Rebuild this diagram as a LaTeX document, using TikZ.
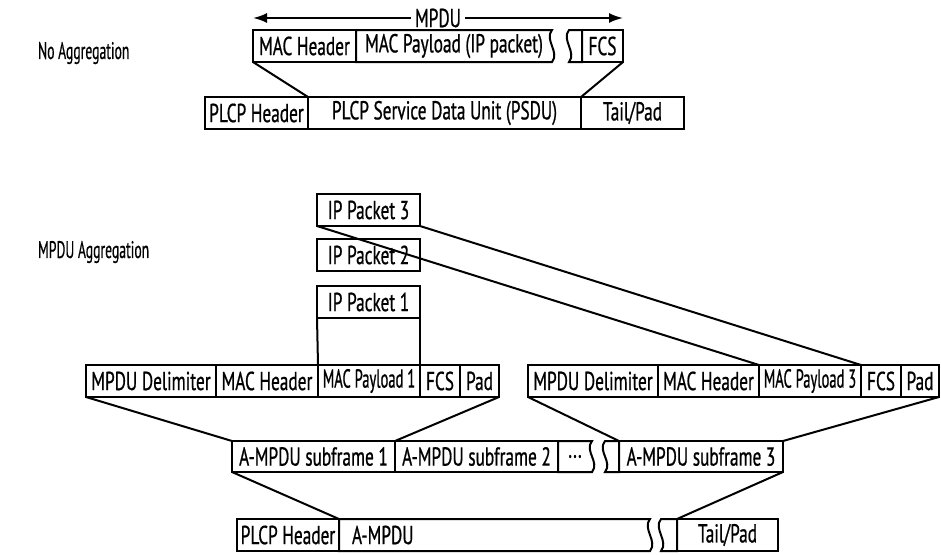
\documentclass[tikz,border=0pt]{standalone}
\usepackage{fontspec}
\setmainfont{PT Sans}[FakeStretch=0.665,FakeBold=0.7]
\newfontfamily\tightfont{PT Sans}[FakeStretch=0.56,FakeBold=0.7]
\newfontfamily\capfont{PT Sans}[FakeStretch=0.57,FakeBold=0.5]
\usetikzlibrary{positioning,arrows.meta}

\newcommand{\cellfont}{\fontsize{26}{30}\selectfont}
% outline of a cell that is broken on its right or left side
\newcommand{\brkright}[1]{\draw (#1.north west) -- (#1.north east)
  .. controls +(-8,10) and +(8,-10) .. (#1.south east) -- (#1.south west) -- cycle;}
\newcommand{\brkleft}[1]{\draw (#1.north east) -- (#1.north west)
  .. controls +(-8,10) and +(8,-10) .. (#1.south west) -- (#1.south east) -- cycle;}

\begin{document}
\begin{tikzpicture}[x=1pt,y=-1pt,line width=2pt,>={Latex[length=14pt,width=10pt]},
                    font=\cellfont]
  \tikzstyle{cell}=[rectangle,draw=black,inner sep=0pt,outer sep=0pt,minimum height=32pt]
  \tikzstyle{open}=[cell,draw=none]
  \tikzstyle{caption}=[anchor=west,inner sep=0pt,font=\fontsize{24}{28}\capfont]

  \useasboundingbox (0,0) rectangle (941,554);

  \node[caption] (noagg)   at (37,53)  {No Aggregation};
  \node[caption] (mpduagg) at (37,252) {MPDU Aggregation};

  % no aggregation
  \node[cell,minimum width=103pt,anchor=north west] (machdr) at (253,30) {MAC Header};
  \node[open,minimum width=196pt,right=0pt of machdr] (macpay) {MAC Payload (IP packet)};
  \node[open,minimum width=13pt,right=17pt of macpay] (macrest) {};
  \node[cell,minimum width=41pt,right=0pt of macrest] (fcs) {FCS};

  \node[cell,minimum width=103pt,anchor=north west] (plcp) at (205,97) {PLCP Header};
  \node[cell,minimum width=273pt,right=0pt of plcp] (psdu) {PLCP Service Data Unit (PSDU)};
  \node[cell,minimum width=103pt,right=0pt of psdu] (tail) {Tail/Pad};

  \draw[<->] ([yshift=12pt]machdr.north west) -- node[fill=white,inner sep=4pt] (mpdu) {MPDU}
             ([yshift=12pt]fcs.north east);

  % mpdu aggregation
  \node[cell,minimum width=103pt,anchor=north west] (ip3) at (317,194) {IP Packet 3};
  \node[cell,minimum width=103pt,below=13pt of ip3] (ip2) {IP Packet 2};
  \node[cell,minimum width=103pt,below=15pt of ip2] (ip1) {IP Packet 1};

  \node[cell,minimum width=130pt,anchor=north west] (delim1) at (86,365) {MPDU Delimiter};
  \node[cell,minimum width=102pt,right=0pt of delim1] (hdr1) {MAC Header};
  \node[cell,minimum width=102pt,right=0pt of hdr1,font={\cellfont\tightfont}] (pay1) {MAC Payload 1};
  \node[cell,minimum width=40pt,right=0pt of pay1] (fcs1) {FCS};
  \node[cell,minimum width=39pt,right=0pt of fcs1] (pad1) {Pad};

  \node[cell,minimum width=130pt,anchor=north west] (delim3) at (528,365) {MPDU Delimiter};
  \node[cell,minimum width=101pt,right=0pt of delim3] (hdr3) {MAC Header};
  \node[cell,minimum width=102pt,right=0pt of hdr3,font={\cellfont\tightfont}] (pay3) {MAC Payload 3};
  \node[cell,minimum width=40pt,right=0pt of pay3] (fcs3) {FCS};
  \node[cell,minimum width=38pt,right=0pt of fcs3] (pad3) {Pad};

  \node[cell,minimum width=163pt,minimum height=31pt,anchor=north west] (sf1) at (232,441) {A-MPDU subframe 1};
  \node[cell,minimum width=163pt,minimum height=31pt,right=0pt of sf1] (sf2) {A-MPDU subframe 2};
  \node[open,minimum width=34pt,minimum height=31pt,right=0pt of sf2] (dots) {...};
  \node[open,minimum width=14pt,minimum height=31pt,right=13pt of dots] (sfrest) {};
  \node[cell,minimum width=164pt,minimum height=31pt,right=0pt of sfrest] (sf3) {A-MPDU subframe 3};

  \node[cell,minimum width=102pt,anchor=north west] (plcp2) at (237,519) {PLCP Header};
  \node[open,minimum width=311pt,text width=285pt,right=0pt of plcp2] (ampdu) {A-MPDU};
  \node[open,minimum width=16pt,right=11pt of ampdu] (arest) {};
  \node[cell,minimum width=101pt,right=0pt of arest] (tail2) {Tail/Pad};

  \brkright{macpay} \brkleft{macrest}
  \brkright{dots}   \brkleft{sfrest}
  \brkright{ampdu}  \brkleft{arest}

  \draw (machdr.south west) -- (psdu.north west);
  \draw (fcs.south east) -- (tail.north west);
  \draw (ip1.south west) -- (pay1.north west);
  \draw (ip1.south east) -- (pay1.north east);
  \draw (ip3.south west) -- (pay3.north west);
  \draw (ip3.south east) -- (pay3.north east);
  \draw (delim1.south west) -- (sf1.north west);
  \draw (pad1.south east) -- (sf1.north east);
  \draw (delim3.south west) -- (sf3.north west);
  \draw (pad3.south east) -- (sf3.north east);
  \draw (sf1.south west) -- (ampdu.north west);
  \draw (sf3.south east) -- (tail2.north west);
\end{tikzpicture}
\end{document}
